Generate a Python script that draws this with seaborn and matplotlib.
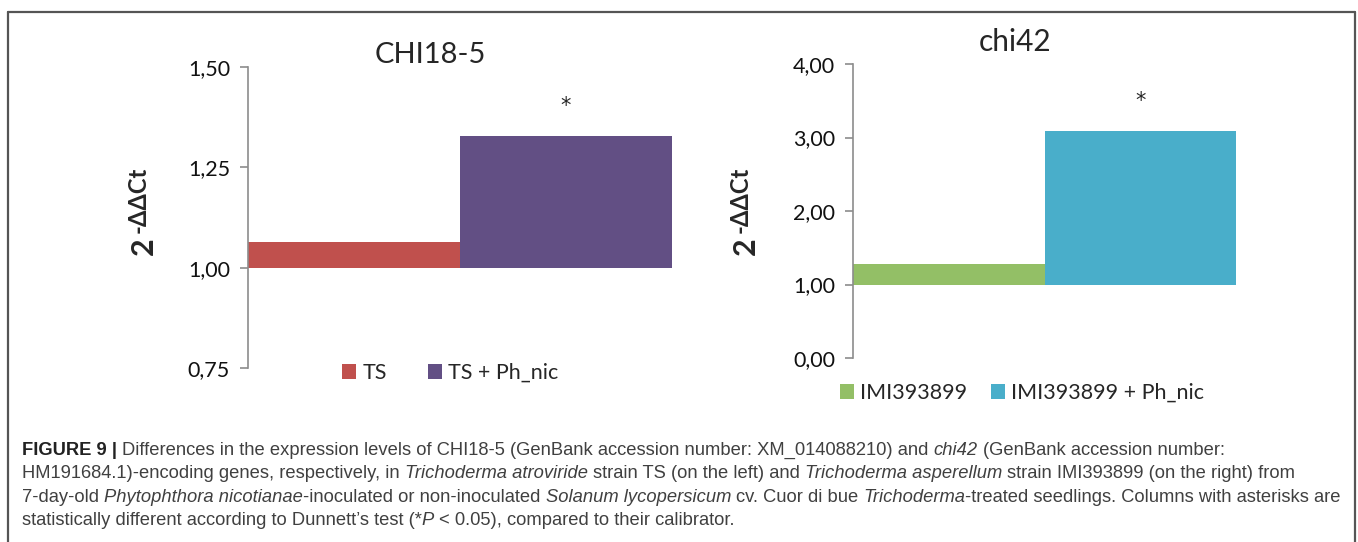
import matplotlib
matplotlib.use("Agg")
import matplotlib.pyplot as plt
from matplotlib.lines import Line2D
from matplotlib.patches import Patch
from matplotlib.ticker import FuncFormatter
import pandas as pd
import seaborn as sns

# left panel: CHI18-5 in T. atroviride strain TS
chi18_groups = ["TS", "TS + Ph_nic"]
chi18_values = [1.065, 1.328]
chi18_colors = ["#C0504D", "#624F84"]
chi18_ticks = [0.75, 1.00, 1.25, 1.50]

# right panel: chi42 in T. asperellum strain IMI393899
chi42_groups = ["IMI393899", "IMI393899 + Ph_nic"]
chi42_values = [1.28, 3.09]
chi42_colors = ["#93BF66", "#49AECA"]
chi42_ticks = [0.0, 1.0, 2.0, 3.0, 4.0]

significant = [False, True]
baseline = 1.0  # calibrator, bars start here

caption = [
    [("FIGURE 9 |", "bold"),
     (" Differences in the expression levels of CHI18-5 (GenBank accession number: XM_014088210) and ", "normal"),
     ("chi42", "italic"), (" (GenBank accession number:", "normal")],
    [("HM191684.1)-encoding genes, respectively, in ", "normal"), ("Trichoderma atroviride", "italic"),
     (" strain TS (on the left) and ", "normal"), ("Trichoderma asperellum", "italic"),
     (" strain IMI393899 (on the right) from", "normal")],
    [("7-day-old ", "normal"), ("Phytophthora nicotianae", "italic"),
     ("-inoculated or non-inoculated ", "normal"), ("Solanum lycopersicum", "italic"),
     (" cv. Cuor di bue ", "normal"), ("Trichoderma", "italic"),
     ("-treated seedlings. Columns with asterisks are", "normal")],
    [("statistically different according to Dunnett\u2019s test (*", "normal"), ("P", "italic"),
     (" < 0.05), compared to their calibrator.", "normal")],
]

W, H = 1358, 542
sns.set_theme(style="white")
plt.rcParams["font.family"] = ["Lato", "DejaVu Sans"]

fig = plt.figure(figsize=(W / 100, H / 100), dpi=100)
fig.patch.set_facecolor("white")


def px(x, y):
    return x / W, 1 - y / H


def comma(v, _):
    return f"{v:.2f}".replace(".", ",")


def draw_panel(rect, groups, values, colors, ticks):
    ax = fig.add_axes(rect)
    df = pd.DataFrame({"group": groups, "height": [v - baseline for v in values]})
    sns.barplot(data=df, x="group", y="height", hue="group", palette=colors,
                saturation=1, width=1, bottom=baseline, linewidth=0,
                legend=False, ax=ax)
    ax.set_xlim(-0.5, len(groups) - 0.5)
    ax.set_ylim(ticks[0], ticks[-1])
    ax.set_yticks(ticks)
    ax.yaxis.set_major_formatter(FuncFormatter(comma))
    ax.set_xticks([])
    ax.set_xlabel("")
    ax.set_ylabel("")
    for side in ["top", "right", "bottom"]:
        ax.spines[side].set_visible(False)
    ax.spines["left"].set_color("#8C8C8C")
    ax.spines["left"].set_linewidth(1.2)
    ax.tick_params(axis="y", left=True, length=6, width=1.2, color="#8C8C8C",
                   labelsize=15.5, pad=7, labelcolor="#111111")
    span = ticks[-1] - ticks[0]
    for i, (v, s) in enumerate(zip(values, significant)):
        if s:
            ax.text(i, v + 0.1 * span, "*", ha="center", va="center", fontsize=15,
                    family="DejaVu Sans")
    ax.patch.set_alpha(0)
    return ax


draw_panel([248 / W, 1 - 368 / H, 424 / W, 301 / H],
           chi18_groups, chi18_values, chi18_colors, chi18_ticks)
draw_panel([853 / W, 1 - 358 / H, 383 / W, 294 / H],
           chi42_groups, chi42_values, chi42_colors, chi42_ticks)

# titles
fig.text(*px(430, 55), "CHI18-5", ha="center", va="center", fontsize=21)
fig.text(*px(1015, 42), "chi42", ha="center", va="center", fontsize=21.5)

# y labels 2^-ddCt
for x0 in [144, 746]:
    fig.text(*px(x0, 246), "2", rotation=90, ha="center", va="center",
             fontsize=22, fontweight="bold")
    fig.text(*px(x0 - 6, 200), "-\u0394\u0394Ct", rotation=90, ha="center", va="center",
             fontsize=17, fontweight="bold")

# legends
for groups, colors, center, gap in [(chi18_groups, chi18_colors, (450, 373), 1.9),
                                    (chi42_groups, chi42_colors, (1022, 393), 1.1)]:
    handles = [Patch(facecolor=c, edgecolor="none", label=g) for g, c in zip(groups, colors)]
    fig.legend(handles=handles, loc="center", bbox_to_anchor=px(*center), ncol=2,
               frameon=False, fontsize=15.5, handlelength=0.65, handleheight=0.65,
               handletextpad=0.3, columnspacing=gap)

# frame around the figure
frame_kw = dict(color="#555555", linewidth=1.6)
fig.add_artist(Line2D([8 / W, 1355 / W], [1 - 12 / H, 1 - 12 / H], **frame_kw))
fig.add_artist(Line2D([8 / W, 8 / W], [0, 1 - 12 / H], **frame_kw))
fig.add_artist(Line2D([1355 / W, 1355 / W], [0, 1 - 12 / H], **frame_kw))

# caption, drawn run by run so italic and bold parts line up
renderer = fig.canvas.get_renderer()
cap_kw = dict(fontsize=13.2, family=["Liberation Sans", "DejaVu Sans"], color="#404040")


def advance(s, style):
    kw = dict(cap_kw, fontweight="bold" if style == "bold" else "normal",
              fontstyle="italic" if style == "italic" else "normal")
    t1 = fig.text(0, 0, "X" + s + "X", **kw)
    t2 = fig.text(0, 0, "XX", **kw)
    w = t1.get_window_extent(renderer).width - t2.get_window_extent(renderer).width
    t1.remove()
    t2.remove()
    return w, kw


space_w, _ = advance(" ", "normal")
for n, line in enumerate(caption):
    x = 22
    y = 455 + n * 23.3
    for s, style in line:
        core = s.strip(" ")
        x += (len(s) - len(s.lstrip(" "))) * space_w
        w, kw = advance(core, style)
        if style == "bold":
            kw["color"] = "#222222"
        fig.text(*px(x, y), core, ha="left", va="baseline", **kw)
        x += w + (len(s) - len(s.rstrip(" "))) * space_w

fig.savefig("out.png", dpi=100)
